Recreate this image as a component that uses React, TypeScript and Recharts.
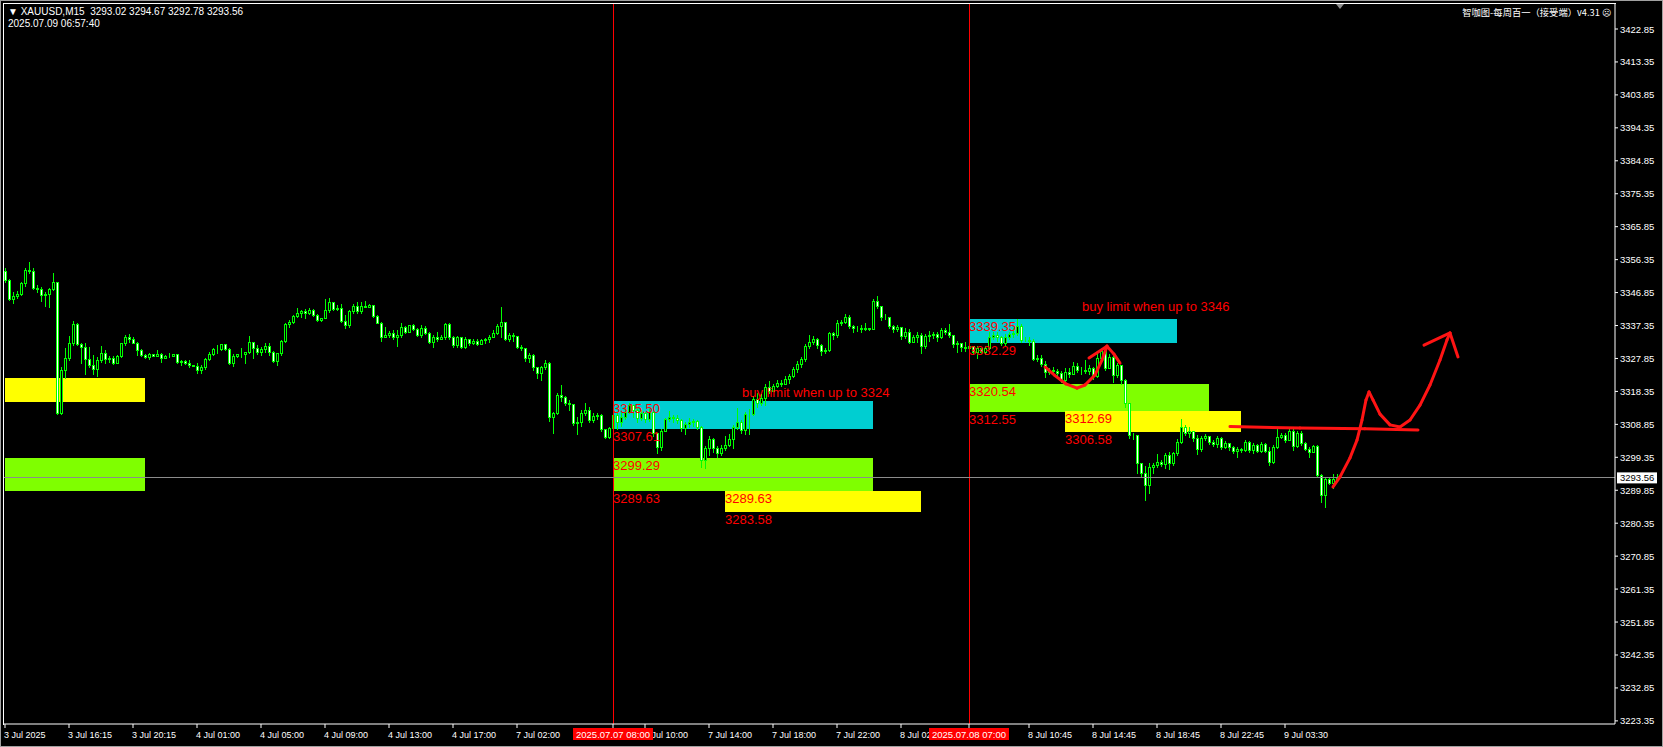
import React from 'react';
import {
  ComposedChart,
  Bar,
  XAxis,
  YAxis,
  ReferenceArea,
  ReferenceLine,
  ReferenceDot,
} from 'recharts';

// XAUUSD M15, 3 Jul 12:15 -> 9 Jul 06:45 (one value per bar, open = previous close)
const firstOpen = 3353.2;

const closes = [
  3350.5, 3344.9, 3345.9, 3346.4, 3349.5, 3353.4, 3353.2, 3348.1, 3347.8, 3346.1,
  3346.3, 3347.9, 3349.8, 3312.0, 3324.5, 3327.9, 3332.2, 3337.8, 3332.0, 3331.2,
  3327.6, 3326.1, 3324.7, 3327.4, 3329.3, 3327.6, 3328.1, 3326.6, 3328.6, 3332.2,
  3333.9, 3333.5, 3332.4, 3330.3, 3328.8, 3328.2, 3329.1, 3328.7, 3329.0, 3328.1,
  3328.7, 3328.6, 3329.0, 3326.8, 3327.1, 3326.6, 3325.9, 3325.8, 3324.5, 3325.3,
  3327.7, 3329.1, 3330.5, 3330.6, 3331.9, 3330.5, 3326.4, 3328.6, 3329.0, 3329.1,
  3329.6, 3332.5, 3331.0, 3329.8, 3330.6, 3331.4, 3329.8, 3327.2, 3329.3, 3332.9,
  3337.8, 3338.5, 3340.1, 3340.9, 3341.5, 3340.9, 3341.8, 3340.3, 3338.9, 3339.4,
  3341.8, 3344.0, 3342.1, 3342.3, 3338.7, 3337.5, 3341.5, 3343.0, 3341.5, 3343.1,
  3342.8, 3343.3, 3340.1, 3338.2, 3334.1, 3334.7, 3335.1, 3334.1, 3334.6, 3336.8,
  3335.6, 3337.4, 3336.3, 3334.6, 3336.5, 3335.1, 3332.7, 3333.9, 3333.4, 3333.9,
  3337.7, 3333.9, 3331.6, 3333.9, 3331.3, 3333.4, 3332.2, 3332.9, 3332.0, 3333.2,
  3333.4, 3334.1, 3335.3, 3337.2, 3338.3, 3333.6, 3334.6, 3334.2, 3331.2, 3330.8,
  3327.9, 3328.8, 3325.3, 3323.8, 3325.3, 3326.4, 3310.9, 3312.0, 3317.3, 3316.7,
  3315.1, 3314.8, 3309.3, 3309.6, 3312.0, 3313.0, 3310.1, 3311.2, 3311.5, 3307.4,
  3305.3, 3307.7, 3311.5, 3309.4, 3311.0, 3312.5, 3314.4, 3313.0, 3310.6, 3312.0,
  3310.4, 3312.5, 3306.3, 3302.2, 3307.0, 3310.3, 3311.0, 3310.6, 3310.2, 3307.7,
  3309.0, 3309.6, 3309.9, 3308.2, 3298.6, 3301.9, 3304.5, 3302.0, 3300.7, 3302.0,
  3302.9, 3304.5, 3308.2, 3309.6, 3307.2, 3311.8, 3311.8, 3316.3, 3315.0, 3316.5,
  3319.7, 3318.6, 3319.9, 3320.9, 3320.5, 3322.0, 3322.9, 3324.7, 3326.3, 3327.6,
  3331.4, 3332.7, 3333.6, 3331.7, 3330.1, 3330.4, 3335.1, 3334.5, 3338.2, 3338.5,
  3339.9, 3337.2, 3336.5, 3336.7, 3336.3, 3336.5, 3336.4, 3344.5, 3343.0, 3339.7,
  3339.9, 3337.2, 3336.3, 3337.0, 3334.3, 3335.6, 3332.7, 3334.1, 3334.5, 3331.4,
  3334.3, 3334.6, 3334.9, 3333.9, 3336.0, 3335.6, 3334.6, 3332.0, 3332.4, 3331.3,
  3331.0, 3331.5, 3329.8, 3330.9, 3329.8, 3331.0, 3334.1, 3334.5, 3333.9, 3332.3,
  3334.0, 3334.8, 3335.1, 3337.2, 3333.2, 3333.3, 3333.0, 3327.8, 3328.0, 3326.3,
  3323.9, 3324.5, 3324.2, 3323.7, 3321.7, 3323.9, 3323.5, 3325.6, 3324.4, 3324.5,
  3324.2, 3325.0, 3322.8, 3328.0, 3329.9, 3325.0, 3328.4, 3323.0, 3325.9, 3321.5,
  3314.9, 3305.8, 3305.9, 3297.6, 3294.8, 3291.4, 3296.5, 3297.1, 3298.1, 3297.4,
  3300.0, 3297.8, 3300.5, 3303.9, 3308.0, 3306.3, 3307.0, 3304.8, 3301.7, 3304.8,
  3305.5, 3303.9, 3303.2, 3304.8, 3302.4, 3303.4, 3302.2, 3301.3, 3301.7, 3301.5,
  3303.7, 3301.5, 3303.0, 3301.3, 3303.2, 3301.3, 3298.1, 3302.4, 3305.1, 3305.8,
  3304.4, 3307.0, 3302.6, 3306.3, 3303.4, 3301.7, 3301.0, 3302.7, 3294.2, 3288.5,
  3293.0, 3292.0, 3293.02, 3293.56,
];

const highs = [
  3353.8, 3350.9, 3347.1, 3347.4, 3349.8, 3353.8, 3355.6, 3353.8, 3349.0, 3348.4,
  3346.9, 3348.3, 3352.4, 3349.8, 3325.5, 3330.8, 3334.3, 3338.6, 3338.0, 3332.4,
  3332.2, 3331.2, 3328.8, 3328.4, 3331.4, 3330.3, 3328.6, 3328.6, 3328.8, 3332.4,
  3334.6, 3334.9, 3333.9, 3332.7, 3330.6, 3329.0, 3329.3, 3329.2, 3330.3, 3329.3,
  3328.9, 3329.3, 3329.2, 3328.9, 3327.4, 3327.4, 3327.4, 3326.1, 3326.4, 3326.0,
  3327.9, 3329.8, 3330.8, 3331.7, 3332.0, 3332.0, 3331.0, 3329.1, 3329.2, 3330.8,
  3329.8, 3334.3, 3332.7, 3331.7, 3331.2, 3332.2, 3332.4, 3330.1, 3329.5, 3333.2,
  3338.0, 3338.9, 3340.4, 3342.3, 3341.8, 3342.2, 3342.3, 3342.0, 3340.6, 3339.6,
  3345.0, 3345.2, 3344.2, 3343.3, 3343.7, 3340.4, 3341.8, 3343.5, 3344.0, 3344.0,
  3344.4, 3343.7, 3343.3, 3340.3, 3338.5, 3336.8, 3335.9, 3336.2, 3336.0, 3338.0,
  3337.2, 3337.6, 3337.8, 3336.7, 3337.5, 3337.2, 3335.6, 3334.6, 3335.6, 3334.6,
  3338.0, 3338.2, 3334.3, 3334.3, 3334.0, 3334.0, 3333.6, 3333.4, 3333.4, 3333.5,
  3333.7, 3334.6, 3336.0, 3337.8, 3342.6, 3338.5, 3335.3, 3335.2, 3333.9, 3331.6,
  3330.8, 3329.3, 3329.2, 3325.5, 3325.8, 3327.4, 3326.8, 3312.5, 3318.0, 3320.2,
  3317.0, 3315.9, 3314.8, 3311.0, 3313.0, 3315.0, 3313.8, 3312.0, 3312.2, 3311.9,
  3307.6, 3308.2, 3312.5, 3312.5, 3312.0, 3313.5, 3315.0, 3314.5, 3313.5, 3313.0,
  3312.5, 3313.2, 3312.5, 3306.5, 3307.6, 3310.8, 3312.7, 3311.5, 3311.5, 3310.5,
  3309.6, 3310.6, 3310.5, 3310.0, 3308.5, 3302.5, 3305.5, 3304.8, 3302.5, 3303.0,
  3305.5, 3306.0, 3308.8, 3313.5, 3310.0, 3312.5, 3313.3, 3317.0, 3317.8, 3317.5,
  3320.5, 3321.3, 3320.5, 3321.5, 3321.5, 3322.7, 3323.4, 3325.3, 3327.0, 3328.2,
  3332.0, 3334.5, 3334.3, 3333.8, 3331.9, 3331.0, 3335.6, 3335.5, 3338.8, 3339.0,
  3340.7, 3340.4, 3337.5, 3337.2, 3337.5, 3338.0, 3336.7, 3345.0, 3345.9, 3342.5,
  3340.6, 3339.9, 3337.5, 3337.6, 3337.0, 3336.5, 3336.4, 3334.6, 3335.6, 3335.3,
  3335.0, 3335.9, 3335.5, 3335.5, 3336.5, 3336.7, 3337.9, 3334.7, 3333.0, 3332.0,
  3332.5, 3332.2, 3331.5, 3331.5, 3331.0, 3331.5, 3335.5, 3335.5, 3335.5, 3334.2,
  3334.8, 3335.6, 3336.5, 3339.3, 3337.8, 3334.0, 3334.0, 3333.5, 3328.8, 3328.8,
  3327.0, 3325.0, 3325.5, 3324.7, 3324.3, 3325.0, 3325.2, 3326.8, 3326.4, 3325.5,
  3327.5, 3326.0, 3325.5, 3329.0, 3330.5, 3329.8, 3329.0, 3328.5, 3326.5, 3326.0,
  3322.0, 3315.1, 3306.3, 3305.0, 3297.8, 3296.7, 3297.6, 3297.6, 3300.3, 3298.5,
  3300.5, 3301.0, 3301.0, 3304.5, 3310.4, 3308.6, 3308.0, 3307.0, 3305.7, 3305.5,
  3306.0, 3305.6, 3304.2, 3305.4, 3305.2, 3304.0, 3303.6, 3302.7, 3302.4, 3301.9,
  3304.2, 3304.0, 3303.6, 3303.2, 3303.8, 3303.6, 3302.4, 3302.9, 3308.0, 3306.3,
  3306.3, 3307.4, 3307.4, 3306.8, 3306.8, 3303.8, 3302.4, 3303.0, 3303.0, 3294.5,
  3293.4, 3293.4, 3294.6, 3294.67,
];

const lows = [
  3350.0, 3344.7, 3343.9, 3345.2, 3346.1, 3348.7, 3352.6, 3347.9, 3347.1, 3344.5,
  3343.1, 3342.8, 3347.6, 3311.7, 3311.7, 3322.1, 3327.4, 3331.7, 3331.7, 3326.4,
  3323.5, 3325.5, 3323.4, 3322.8, 3326.9, 3326.6, 3326.9, 3326.2, 3326.4, 3328.4,
  3331.7, 3332.7, 3332.2, 3328.8, 3328.5, 3328.0, 3327.8, 3328.5, 3328.5, 3326.9,
  3327.9, 3328.4, 3328.5, 3326.6, 3326.0, 3326.2, 3325.3, 3325.7, 3323.6, 3323.8,
  3324.9, 3327.4, 3328.8, 3329.3, 3330.3, 3330.3, 3326.2, 3325.8, 3328.4, 3328.4,
  3326.4, 3329.3, 3328.1, 3329.1, 3328.8, 3329.8, 3328.8, 3326.9, 3326.0, 3328.8,
  3332.7, 3336.8, 3338.0, 3339.9, 3339.9, 3339.4, 3340.7, 3340.1, 3338.6, 3338.7,
  3339.4, 3341.3, 3341.9, 3341.8, 3338.5, 3336.7, 3337.0, 3341.0, 3340.9, 3340.9,
  3342.6, 3342.6, 3339.9, 3338.0, 3333.0, 3333.9, 3333.9, 3333.5, 3331.5, 3334.1,
  3335.3, 3335.4, 3336.0, 3334.4, 3333.9, 3334.8, 3332.4, 3331.2, 3333.0, 3333.4,
  3333.6, 3333.6, 3331.2, 3331.2, 3330.8, 3331.0, 3331.8, 3331.9, 3331.6, 3332.0,
  3332.2, 3332.7, 3333.9, 3334.8, 3334.1, 3333.2, 3333.0, 3333.0, 3330.8, 3330.3,
  3327.2, 3326.8, 3324.5, 3322.3, 3321.6, 3324.7, 3309.8, 3306.4, 3311.8, 3315.5,
  3314.5, 3313.1, 3308.7, 3306.1, 3308.4, 3311.5, 3309.6, 3309.6, 3310.5, 3306.8,
  3304.8, 3304.8, 3307.5, 3307.5, 3308.5, 3310.5, 3312.0, 3311.0, 3309.5, 3310.0,
  3309.5, 3309.8, 3305.5, 3300.5, 3301.5, 3306.8, 3309.8, 3309.5, 3309.3, 3307.0,
  3306.0, 3308.2, 3308.5, 3307.5, 3296.5, 3296.4, 3300.0, 3301.0, 3299.5, 3300.0,
  3301.5, 3302.5, 3302.0, 3307.5, 3306.5, 3306.0, 3306.2, 3311.5, 3314.0, 3314.5,
  3314.5, 3318.0, 3318.5, 3319.5, 3319.8, 3320.5, 3320.8, 3322.6, 3324.0, 3325.5,
  3327.0, 3331.0, 3332.0, 3331.0, 3328.8, 3329.5, 3330.0, 3333.5, 3334.0, 3337.5,
  3338.2, 3336.5, 3335.5, 3335.8, 3335.5, 3336.2, 3336.2, 3338.5, 3342.5, 3339.0,
  3339.2, 3336.6, 3335.5, 3335.8, 3333.5, 3333.8, 3332.2, 3332.5, 3332.7, 3329.5,
  3331.0, 3333.0, 3333.8, 3333.0, 3333.7, 3335.0, 3334.0, 3331.3, 3329.6, 3330.0,
  3330.0, 3330.5, 3329.0, 3328.0, 3329.3, 3329.0, 3330.5, 3333.5, 3333.0, 3331.6,
  3331.8, 3333.5, 3334.0, 3334.5, 3332.5, 3332.8, 3331.8, 3327.3, 3327.0, 3325.6,
  3322.5, 3323.5, 3323.0, 3322.9, 3321.0, 3321.4, 3322.5, 3323.3, 3324.0, 3323.5,
  3323.7, 3323.3, 3322.0, 3322.5, 3326.5, 3324.5, 3325.5, 3321.0, 3322.5, 3320.5,
  3314.0, 3305.0, 3304.5, 3294.7, 3294.0, 3287.0, 3289.0, 3294.7, 3296.5, 3296.8,
  3296.2, 3295.9, 3297.0, 3300.0, 3303.4, 3305.8, 3305.3, 3304.0, 3300.3, 3301.2,
  3304.3, 3303.3, 3302.5, 3302.4, 3301.8, 3302.0, 3301.6, 3300.7, 3299.4, 3301.0,
  3301.2, 3300.8, 3300.5, 3300.8, 3301.0, 3300.8, 3297.1, 3297.6, 3302.0, 3304.8,
  3303.9, 3305.0, 3301.5, 3302.3, 3303.0, 3301.4, 3299.5, 3300.8, 3293.8, 3286.6,
  3284.9, 3291.6, 3290.4, 3292.78,
];

const visibleSlots = 403; // bars that fit the window incl. the empty right shift

const priceTicks = [
  3223.35, 3232.85, 3242.35, 3251.85, 3261.35, 3270.85, 3280.35, 3289.85, 3299.35,
  3308.85, 3318.35, 3327.85, 3337.35, 3346.85, 3356.35, 3365.85, 3375.35, 3384.85,
  3394.35, 3403.85, 3413.35, 3422.85,
];

const timeTickBars = [0, 16, 32, 48, 64, 80, 96, 112, 128, 160, 176, 192, 208, 224, 256, 272, 288, 304, 320];
const timeTickLabels = [
  '3 Jul 2025', '3 Jul 16:15', '3 Jul 20:15', '4 Jul 01:00', '4 Jul 05:00', '4 Jul 09:00',
  '4 Jul 13:00', '4 Jul 17:00', '7 Jul 02:00', '7 Jul 10:00', '7 Jul 14:00', '7 Jul 18:00',
  '7 Jul 22:00', '8 Jul 02:00', '8 Jul 10:45', '8 Jul 14:45', '8 Jul 18:45', '8 Jul 22:45',
  '9 Jul 03:30',
];

const sessionBars = [152, 241];
const sessionLabels = ['2025.07.07 08:00', '2025.07.08 07:00'];

// zones: bar range + price range
const zones = [
  { from: 0, to: 35, hi: 3322.2, lo: 3315.3, kind: 'flip', labeled: false },
  { from: 0, to: 35, hi: 3299.29, lo: 3289.63, kind: 'demand', labeled: false },
  { from: 152, to: 217, hi: 3315.5, lo: 3307.61, kind: 'supply', labeled: true },
  { from: 152, to: 217, hi: 3299.29, lo: 3289.63, kind: 'demand', labeled: true },
  { from: 180, to: 229, hi: 3289.63, lo: 3283.58, kind: 'flip', labeled: true },
  { from: 241, to: 293, hi: 3339.35, lo: 3332.29, kind: 'supply', labeled: true },
  { from: 241, to: 301, hi: 3320.54, lo: 3312.55, kind: 'demand', labeled: true },
  { from: 265, to: 309, hi: 3312.69, lo: 3306.58, kind: 'flip', labeled: true },
];

const notes = [
  { bar: 184.25, price: 3320.3, text: 'buy limit when up to 3324' },
  { bar: 269.25, price: 3345.1, text: 'buy limit when up to 3346' },
];

// hand drawn marks, [bar, price]
const strokes = [
  [[260, 3325.4], [262.5, 3322.9], [265.25, 3320.5], [268, 3319.3], [270, 3320.2], [272.5, 3323.1], [274.25, 3327.4], [275.5, 3331.4], [277.25, 3329.1], [278.75, 3326.5]],
  [[271, 3328.0], [275.5, 3331.4]],
  [[306.25, 3308.2], [323.75, 3307.8], [340, 3307.6], [353.25, 3307.2]],
  [[332, 3290.8], [333.75, 3293.7], [336.25, 3299.2], [338, 3304.3], [339.25, 3310.1], [340.25, 3315.9], [341, 3318.2], [342, 3315.9], [343.75, 3311.8], [346.25, 3308.7], [348.75, 3308.1], [351.25, 3310.1], [353.75, 3314.4], [356.25, 3320.2], [358.75, 3327.4], [360.5, 3333.2], [361.25, 3335.2], [363.25, 3328.3]],
  [[354.75, 3331.7], [361.25, 3335.2]],
];

const lastPrice = closes[closes.length - 1];

const UI_FONT = '"Liberation Sans", Arial, sans-serif';
const CANDLE = '#00ff00';
const ZONE_FILL: Record<string, string> = { supply: '#00ced1', demand: '#7fff00', flip: '#ffff00' };
const MARK_RED = '#ff1414';

const rows = Array.from({ length: visibleSlots }, (_, i) => {
  if (i >= closes.length) return { i };
  const o = i === 0 ? firstOpen : closes[i - 1];
  const c = closes[i];
  const h = Math.max(highs[i], o, c);
  const l = Math.min(lows[i], o, c);
  return { i, o, h, l, c, range: [l, h] };
});

const tickText: Record<number, string> = {};
timeTickBars.forEach((b, k) => {
  tickText[b] = timeTickLabels[k];
});
const sessionText: Record<number, string> = {};
sessionBars.forEach((b, k) => {
  sessionText[b] = sessionLabels[k];
});
// session tags last so they sit on top of the neighbouring time labels
const axisTicks = [...timeTickBars, ...sessionBars];

const Candle = (props: any) => {
  const { x, y, width, height, payload } = props;
  if (!payload || payload.c == null || !isFinite(y)) return null;
  const { o, h, l, c } = payload;
  const span = h - l || 1;
  const py = (v: number) => y + ((h - v) / span) * height;
  const cx = Math.round(x + width / 2);
  const yH = Math.round(py(h));
  const yL = Math.round(py(l));
  const yTop = Math.round(py(Math.max(o, c)));
  const yBot = Math.round(py(Math.min(o, c)));
  const bull = c > o;
  return (
    <g shapeRendering="crispEdges">
      <rect x={cx} y={yH} width={1} height={Math.max(1, yL - yH + 1)} fill={CANDLE} />
      <rect
        x={cx - 0.5}
        y={yTop + 0.5}
        width={2}
        height={Math.max(0, yBot - yTop)}
        fill={bull ? '#000000' : '#ffffff'}
        stroke={CANDLE}
        strokeWidth={1}
      />
    </g>
  );
};

const PriceTick = ({ x, y, payload }: any) => (
  <text x={x} y={y + 3.5} fill="#ffffff" fontSize={9.5} fontFamily={UI_FONT}>
    {Number(payload.value).toFixed(2)}
  </text>
);

const TimeTick = ({ x, y, payload }: any) => {
  const v = payload.value;
  if (sessionText[v]) {
    return (
      <g>
        <rect x={x - 40} y={y - 2} width={80} height={12} fill="#ff0000" />
        <text x={x} y={y + 7.5} fill="#ffffff" fontSize={9.5} fontFamily={UI_FONT} textAnchor="middle">
          {sessionText[v]}
        </text>
      </g>
    );
  }
  return (
    <text x={x - 1} y={y + 7.5} fill="#ffffff" fontSize={9} fontFamily={UI_FONT}>
      {tickText[v] ?? ''}
    </text>
  );
};

const LastPriceTag = ({ viewBox }: any) => {
  if (!viewBox) return null;
  const x = viewBox.x + viewBox.width;
  const y = viewBox.y;
  return (
    <g>
      <rect x={x + 2} y={y - 5} width={40} height={11} fill="#ffffff" />
      <text x={x + 5} y={y + 3.5} fill="#000000" fontSize={9.5} fontFamily={UI_FONT}>
        {lastPrice.toFixed(2)}
      </text>
    </g>
  );
};

const NoteText = ({ cx, cy, text }: any) => (
  <text x={cx} y={cy + 12} fill="#ff0000" fontSize={13} fontFamily={UI_FONT}>
    {text}
  </text>
);

const zoneLabels = zones
  .filter((z) => z.labeled)
  .flatMap((z) => [
    { bar: z.from, price: z.hi },
    { bar: z.from, price: z.lo },
  ]);

export default function App() {
  return (
    <div
      style={{
        position: 'absolute',
        left: 0,
        top: 0,
        width: 1663,
        height: 747,
        background: '#000000',
        overflow: 'hidden',
      }}
    >
      <ComposedChart
        width={1663}
        height={747}
        data={rows}
        margin={{ top: 4, right: 0, bottom: 0, left: 3 }}
      >
        <XAxis
          dataKey="i"
          type="category"
          ticks={axisTicks}
          interval={0}
          height={23}
          axisLine={{ stroke: '#ffffff' }}
          tickLine={{ stroke: '#ffffff' }}
          tickSize={4}
          tick={<TimeTick />}
        />
        <XAxis
          xAxisId="n"
          dataKey="i"
          type="number"
          domain={[-0.5, visibleSlots - 0.5]}
          allowDataOverflow
          hide
        />
        <YAxis
          orientation="right"
          domain={[3222.45, 3430.06]}
          ticks={priceTicks}
          interval={0}
          allowDataOverflow
          width={48}
          axisLine={{ stroke: '#ffffff' }}
          tickLine={{ stroke: '#ffffff' }}
          tickSize={3}
          tickMargin={2}
          tick={<PriceTick />}
        />

        {zones.map((z, k) => (
          <ReferenceArea
            key={`z${k}`}
            xAxisId="n"
            x1={z.from}
            x2={z.to}
            y1={z.lo}
            y2={z.hi}
            fill={ZONE_FILL[z.kind]}
            fillOpacity={1}
            stroke="none"
            shapeRendering="crispEdges"
          />
        ))}

        {zoneLabels.map((t, k) => (
          <ReferenceDot
            key={`zl${k}`}
            xAxisId="n"
            x={t.bar}
            y={t.price}
            r={0}
            shape={(p: any) => <NoteText cx={p.cx} cy={p.cy} text={t.price.toFixed(2)} />}
          />
        ))}
        {notes.map((t, k) => (
          <ReferenceDot
            key={`n${k}`}
            xAxisId="n"
            x={t.bar}
            y={t.price}
            r={0}
            shape={(p: any) => <NoteText cx={p.cx} cy={p.cy} text={t.text} />}
          />
        ))}

        {sessionBars.map((b, k) => (
          <ReferenceLine
            key={`s${k}`}
            xAxisId="n"
            x={b}
            stroke="#ff0000"
            strokeWidth={1}
            shapeRendering="crispEdges"
          />
        ))}
        <ReferenceLine
          xAxisId="n"
          y={lastPrice}
          stroke="#8c8c8c"
          strokeWidth={1}
          shapeRendering="crispEdges"
          label={(p: any) => <LastPriceTag viewBox={p.viewBox} />}
        />

        <Bar dataKey="range" barCategoryGap={0} shape={<Candle />} isAnimationActive={false} />

        {strokes.flatMap((pts, s) =>
          pts.slice(1).map((pt, k) => (
            <ReferenceLine
              key={`m${s}-${k}`}
              xAxisId="n"
              segment={[
                { x: pts[k][0], y: pts[k][1] },
                { x: pt[0], y: pt[1] },
              ]}
              stroke={MARK_RED}
              strokeWidth={3}
              strokeLinecap="round"
            />
          )),
        )}
      </ComposedChart>

      {/* chart frame */}
      <div
        style={{
          position: 'absolute',
          left: 3,
          top: 3,
          width: 1612,
          height: 721,
          borderLeft: '1px solid #ffffff',
          borderTop: '1px solid #ffffff',
          pointerEvents: 'none',
        }}
      />
      <div
        style={{
          position: 'absolute',
          left: 0,
          top: 0,
          width: 1661,
          height: 745,
          border: '1px solid #a0a0a0',
          pointerEvents: 'none',
        }}
      />
      <div
        style={{
          position: 'absolute',
          left: 1336,
          top: 4,
          width: 0,
          height: 0,
          borderLeft: '4px solid transparent',
          borderRight: '4px solid transparent',
          borderTop: '5px solid #8c8c8c',
        }}
      />

      <div
        style={{
          position: 'absolute',
          left: 8,
          top: 6,
          color: '#ffffff',
          fontFamily: UI_FONT,
          fontSize: 10,
          lineHeight: '12px',
          whiteSpace: 'pre',
        }}
      >
        {'▼ XAUUSD,M15  3293.02 3294.67 3292.78 3293.56'}
        <br />
        {'2025.07.09 06:57:40'}
      </div>
      <div
        style={{
          position: 'absolute',
          right: 52,
          top: 6,
          color: '#ffffff',
          fontFamily: '"Noto Sans CJK SC", "Liberation Sans", sans-serif',
          fontSize: 9.3,
          lineHeight: '12px',
          whiteSpace: 'pre',
        }}
      >
        {'智咖图-每周百一（接受端）v4.31 ☹'}
      </div>
    </div>
  );
}
